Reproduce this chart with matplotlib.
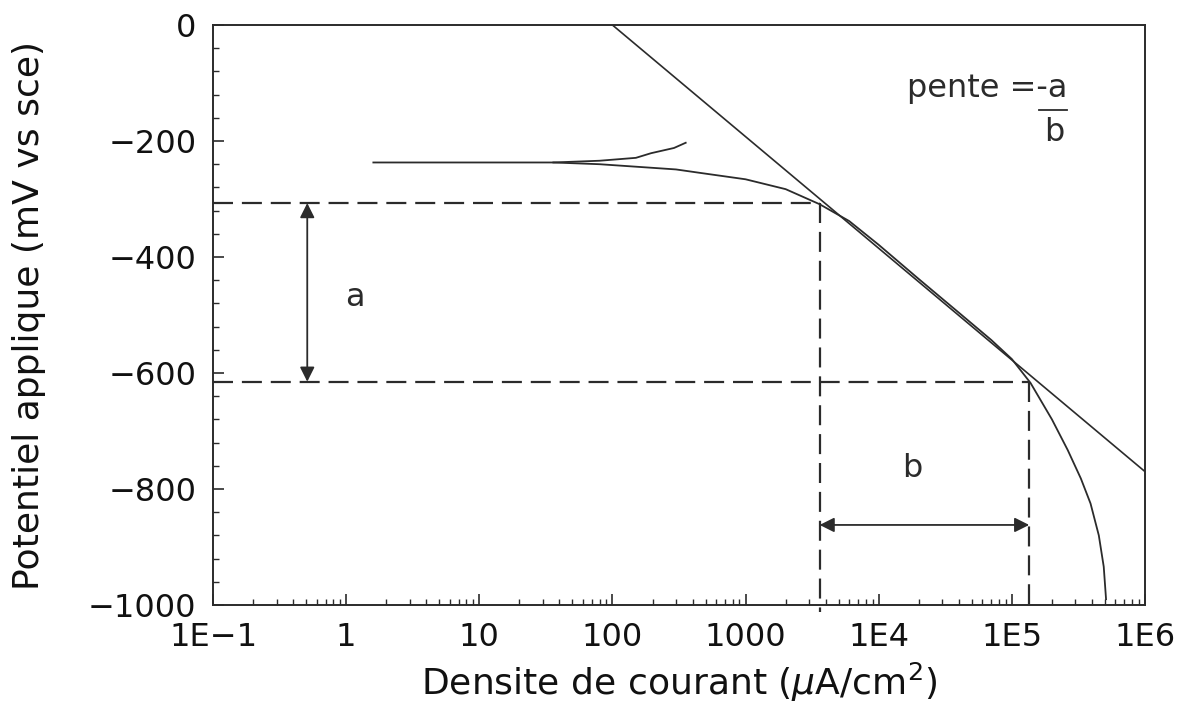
import numpy as np
import matplotlib
matplotlib.use("Agg")
import matplotlib.pyplot as plt
from matplotlib.ticker import FixedLocator, NullFormatter

# Polarisation curve (cathodic branch), current density in uA/cm2, potential in mV vs SCE
courant = [1.6, 5, 15, 36, 80, 144, 300, 457, 1000, 2000, 3600, 6000, 1e4, 2e4,
           4e4, 7e4, 1.0e5, 1.38e5, 2.0e5, 2.63e5, 3.3e5, 3.9e5, 4.5e5, 4.9e5, 5.1e5]
potentiel = [-237, -237, -237, -237, -240, -244, -249, -255, -266, -283, -309, -338,
             -379, -438, -496, -543, -576, -617, -680, -733, -782, -825, -880, -934, -990]

# Anodic-side branch near the corrosion potential
courant_haut = [36, 80, 150, 195, 290, 355]
potentiel_haut = [-237, -234, -229, -221, -212, -203]

# Tafel line (two end points)
tafel_x = [100, 1e6]
tafel_y = [0, -770]

# Construction lines for the slope a / b
pot_a = [-307, -615]
cour_b = [3600, 1.35e5]

xticks = [1e-1, 1, 10, 100, 1000, 1e4, 1e5, 1e6]
xticklabels = ["1E\u22121", "1", "10", "100", "1000", "1E4", "1E5", "1E6"]
yticks = [0, -200, -400, -600, -800, -1000]
yticklabels = ["0", "\u2212200", "\u2212400", "\u2212600", "\u2212800", "\u22121000"]

plt.rcParams['font.family'] = ['DejaVu Sans']
ink = '#2b2b2b'

fig = plt.figure(figsize=(11.81, 7.13), dpi=100)
ax = fig.add_axes([0.1804, 0.1515, 0.7891, 0.8134])
ax.set_xscale('log')
ax.set_xlim(0.1, 1e6)
ax.set_ylim(-1000, 0)

ax.plot(courant, potentiel, color=ink, lw=1.3)
ax.plot(courant_haut, potentiel_haut, color=ink, lw=1.3)
ax.plot(tafel_x, tafel_y, color=ink, lw=1.2)

dash = dict(color=ink, lw=1.6, dashes=(9, 4))
ax.plot([0.1, cour_b[0]], [pot_a[0], pot_a[0]], **dash)
ax.plot([0.1, cour_b[1]], [pot_a[1], pot_a[1]], **dash)
ax.plot([cour_b[0], cour_b[0]], [pot_a[0], -1012], clip_on=False, **dash)
ax.plot([cour_b[1], cour_b[1]], [pot_a[1], -1012], clip_on=False, **dash)

# double arrows for a and b
arrow = dict(arrowstyle='<|-|>', color=ink, lw=1.3, mutation_scale=22, shrinkA=0, shrinkB=0)
ax.annotate('', xy=(0.51, pot_a[0]), xytext=(0.51, pot_a[1]), arrowprops=arrow)
ax.annotate('', xy=(cour_b[0], -862), xytext=(cour_b[1], -862), arrowprops=arrow)
ax.text(1.17, -469, 'a', fontsize=23, color=ink, ha='center', va='center')
ax.text(1.8e4, -764, 'b', fontsize=23, color=ink, ha='center', va='center')

# slope annotation
ax.text(2.6e5, -109, 'pente =-a', fontsize=23, color=ink, ha='right', va='center')
ax.plot([1.6e5, 2.6e5], [-147, -147], color=ink, lw=1.3)
ax.text(2.1e5, -186, 'b', fontsize=23, color=ink, ha='center', va='center')

ax.xaxis.set_major_locator(FixedLocator(xticks))
ax.set_xticklabels(xticklabels)
minors = [m * 10.0 ** e for e in range(-1, 6) for m in range(2, 10)]
ax.xaxis.set_minor_locator(FixedLocator(minors))
ax.xaxis.set_minor_formatter(NullFormatter())
ax.set_yticks(yticks)
ax.set_yticklabels(yticklabels)
ax.yaxis.set_minor_locator(FixedLocator(np.arange(-1000, 1, 40)))

ax.tick_params(which='both', direction='in', top=False, right=False, colors=ink,
               labelsize=23, labelcolor='#111111')
ax.tick_params(which='major', length=8, width=1.2, pad=12)
ax.tick_params(which='minor', length=4, width=1.0)
for s in ax.spines.values():
    s.set_color(ink)
    s.set_linewidth(1.4)

ax.set_xlabel('Densite de courant ($\\mu$A/cm$^2$)', fontsize=26, color='#111111', labelpad=6)
ax.set_ylabel('Potentiel applique (mV vs sce)', fontsize=26, color='#111111', labelpad=30)

fig.savefig('out.png', dpi=100)
